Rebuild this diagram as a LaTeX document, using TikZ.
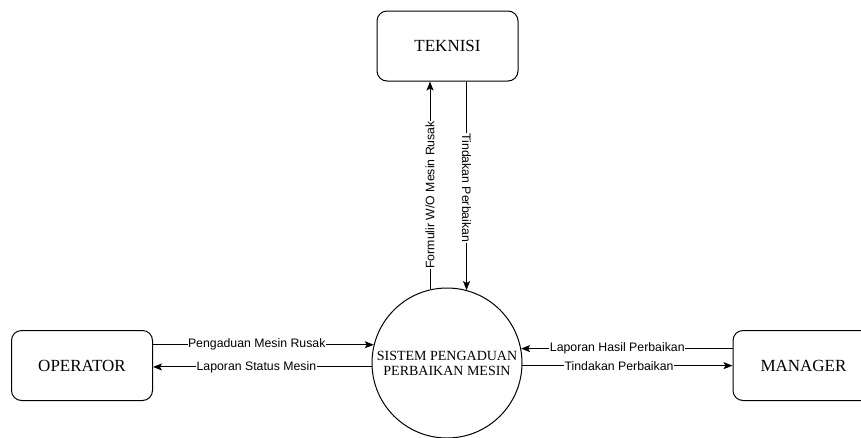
\documentclass[tikz,border=0pt]{standalone}
\usepackage{fontspec}
\setmainfont{Liberation Serif}
\newfontfamily\labelfont{Liberation Sans}
\usetikzlibrary{arrows.meta}
\begin{document}
\begin{tikzpicture}[x=1pt,y=-1pt,
  entity/.style={draw, line width=1pt, rounded corners=10pt, minimum width=141pt,
    minimum height=70pt, inner sep=0pt, font=\fontsize{17}{20}\selectfont},
  process/.style={draw, line width=1pt, circle, minimum size=150pt, inner sep=0pt,
    align=center, font=\fontsize{14}{16}\selectfont},
  flow/.style={line width=1pt, -{Stealth[length=9pt,width=7pt,inset=2pt]}},
  flowlabel/.style={fill=white, inner sep=0.5pt, text=black,
    font=\labelfont\fontsize{12.3}{14}\selectfont}]
\useasboundingbox (0,0) rectangle (861,437);
\fill[white] (0,0) rectangle (861,437);

% external entities and the central process
\node[entity] (tek) at (447.5,46) {TEKNISI};
\node[entity] (oper) at (82,365.5) {OPERATOR};
\node[entity] (man) at (803.5,365.5) {MANAGER};
\node[process] (sys) at (447,363) {SISTEM PENGADUAN\\[-1pt]PERBAIKAN MESIN};

% points where the flows meet the process circle
\coordinate (sysUL) at (sys.103.9);
\coordinate (sysUR) at (sys.75.3);
\coordinate (sysL1) at (sys.166.9);
\coordinate (sysL2) at (sys.183.1);
\coordinate (sysR1) at (sys.11.5);
\coordinate (sysR2) at (sys.-2.3);

% flows to and from TEKNISI
\draw[flow] (sysUL) -- (sysUL |- tek.south)
  node[flowlabel, pos=0.455, rotate=90] {Formulir W/O Mesin Rusak};
\draw[flow] (sysUR |- tek.south) -- (sysUR)
  node[flowlabel, pos=0.51, rotate=-90] {Tindakan Perbaikan};

% flows to and from OPERATOR
\draw[flow] (oper.east |- sysL1) -- (sysL1)
  node[flowlabel, pos=0.47] {Pengaduan Mesin Rusak};
\draw[flow] (sysL2) -- (oper.east |- sysL2)
  node[flowlabel, pos=0.527] {Laporan Status Mesin};

% flows to and from MANAGER
\draw[flow] (man.west |- sysR1) -- (sysR1)
  node[flowlabel, pos=0.545] {Laporan Hasil Perbaikan};
\draw[flow] (sysR2) -- (man.west |- sysR2)
  node[flowlabel, pos=0.46] {Tindakan Perbaikan};
\end{tikzpicture}
\end{document}
